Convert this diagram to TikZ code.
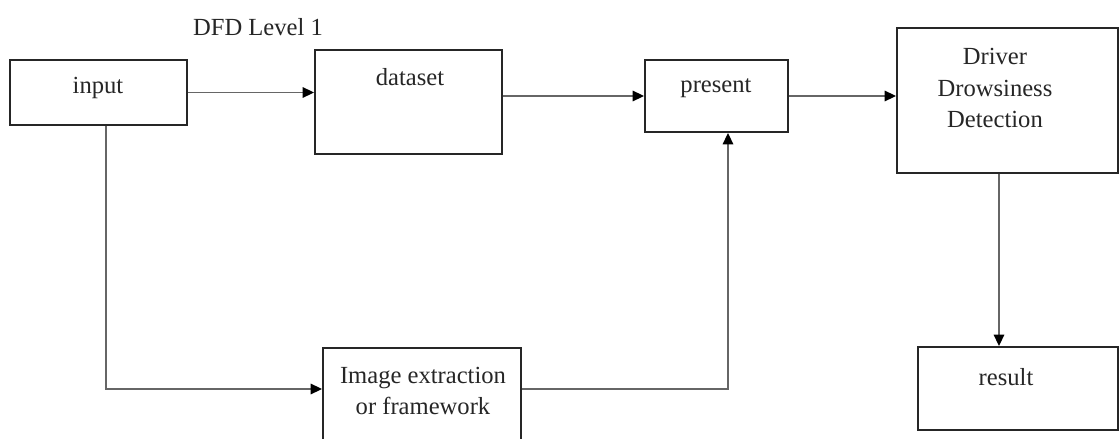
\documentclass[tikz,border=0pt]{standalone}
\usepackage{fontspec}
\setmainfont{Liberation Serif}
\usetikzlibrary{arrows.meta}
\begin{document}
\begin{tikzpicture}[x=0.02cm, y=-0.02cm,
    box/.style={draw=black!85, line width=1.1pt, inner sep=0pt},
    lbl/.style={font=\fontsize{14}{18}\selectfont, align=center, inner sep=0pt, text=black!85},
    flow/.style={draw=black!60, line width=0.8pt, -{Triangle[length=6.5pt, width=6pt, color=black]}}]
    \useasboundingbox (0,0) rectangle (1120,439);

    % Title
    \node[lbl] (title) at (258,27) {DFD Level 1};

    % Processes
    \node[box, minimum width=3.54cm, minimum height=1.3cm] (input) at (98.5,92.5) {};
    \node[lbl] (inputtxt) at (98,88) {input};
    \node[box, minimum width=3.74cm, minimum height=2.08cm] (dataset) at (408.5,102) {};
    \node[lbl] (datasettxt) at (410,77) {dataset};
    \node[box, minimum width=2.86cm, minimum height=1.44cm] (present) at (716.5,96) {};
    \node[lbl] (presenttxt) at (716,88) {present};
    \node[box, minimum width=4.42cm, minimum height=2.9cm] (driver) at (1007.5,100.5) {};
    \node[lbl] (drivertxt) at (995,88) {Driver\\Drowsiness\\Detection};
    \node[box, minimum width=4cm, minimum height=1.66cm] (result) at (1018,388.5) {};
    \node[lbl] (resulttxt) at (1006,377) {result};
    \node[box, minimum width=3.96cm, minimum height=2.4cm] (image) at (422,408) {};
    \node[lbl] (imagetxt) at (423,391) {Image extraction\\or framework};

    % Flows
    \coordinate (bend) at (106,389);
    \coordinate (drop) at (999,250);
    \draw[flow] (input.east) -- (input.east -| dataset.west);
    \draw[flow] (present.west -| dataset.east) -- (present.west);
    \draw[flow] (present.east) -- (present.east -| driver.west);
    \draw[flow] (driver.south -| drop) -- (result.north -| drop);
    \draw[flow] (input.south -| bend) -- (bend) -- (bend -| image.west);
    \draw[flow] (image.east |- bend) -| ([xshift=0.23cm]present.south);
\end{tikzpicture}
\end{document}
